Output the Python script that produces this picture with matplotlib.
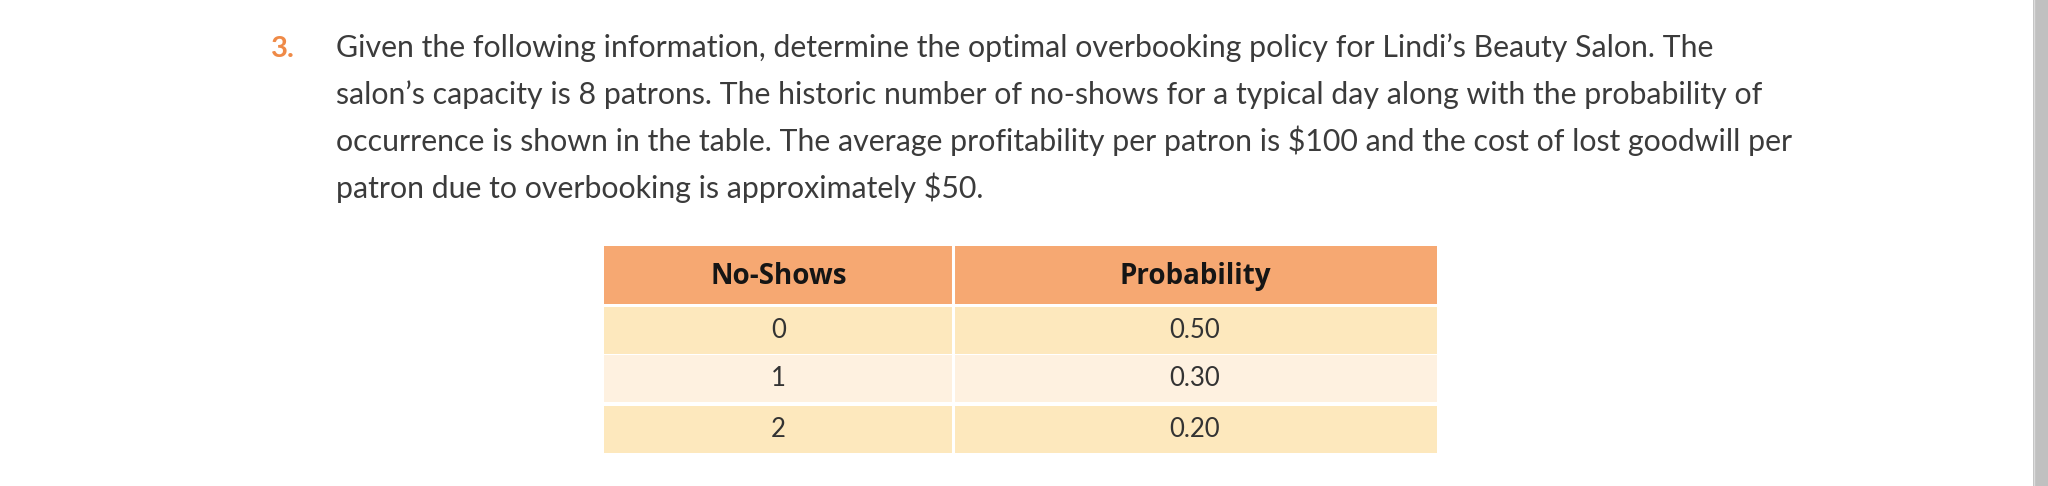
import matplotlib.pyplot as plt
from matplotlib.patches import Rectangle

# question text
q_number = "3."
q_lines = [
    "Given the following information, determine the optimal overbooking policy for Lindi\u2019s Beauty Salon. The",
    "salon\u2019s capacity is 8 patrons. The historic number of no-shows for a typical day along with the probability of",
    "occurrence is shown in the table. The average profitability per patron is $100 and the cost of lost goodwill per",
    "patron due to overbooking is approximately $50.",
]

# table data
col_headers = ["No-Shows", "Probability"]
no_shows = [0, 1, 2]
probability = [0.50, 0.30, 0.20]

W, H = 2048, 486
fig = plt.figure(figsize=(W / 100, H / 100), dpi=100)
ax = fig.add_axes([0, 0, 1, 1])
ax.set_xlim(0, W)
ax.set_ylim(H, 0)
ax.axis('off')

txt_font = 'Lato'
ax.text(271, 57, q_number, color='#ef8a47', fontsize=21, family=txt_font,
        fontweight='bold', va='baseline')
y = 57
for line in q_lines:
    ax.text(336, y, line, color='#3b3b3b', fontsize=21.75, family=txt_font, va='baseline')
    y += 47

# table layout
x0, xm, x1 = 604, 953, 1437
head_top, head_bot = 246, 304
row_tops = [307, 355, 406]
row_h = 47
row_colors = ['#fde8bd', '#fef1e0', '#fde8bd']

ax.add_patch(Rectangle((x0, head_top), x1 - x0, head_bot - head_top, color='#f6a872', lw=0))
hy = (head_top + head_bot) / 2 + 1
ax.text((x0 + xm) / 2, hy, col_headers[0], ha='center', va='center', fontsize=20,
        fontweight='bold', family='Open Sans', color='#151515')
ax.text((xm + x1) / 2, hy, col_headers[1], ha='center', va='center', fontsize=20,
        fontweight='bold', family='Open Sans', color='#151515')

for i in range(len(no_shows)):
    top = row_tops[i]
    ax.add_patch(Rectangle((x0, top), x1 - x0, row_h, color=row_colors[i], lw=0))
    cy = top + row_h / 2
    ax.text((x0 + xm) / 2, cy, str(no_shows[i]), ha='center', va='center',
            fontsize=18.5, family=txt_font, color='#333333')
    ax.text((xm + x1) / 2, cy, "%.2f" % probability[i], ha='center', va='center',
            fontsize=18.5, family=txt_font, color='#333333')

# column divider
ax.plot([xm, xm], [head_top, row_tops[-1] + row_h], color='white', lw=2.2)

# scrollbar at the right edge
ax.add_patch(Rectangle((2033, 0), 15, H, color='#c0c0c0', lw=0))
ax.plot([2033.5, 2033.5], [0, H], color='#dcdcdc', lw=1)

fig.savefig('out.png', dpi=100, facecolor='white')
